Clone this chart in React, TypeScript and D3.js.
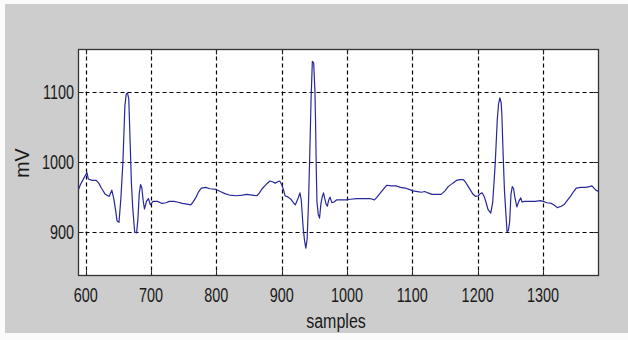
import * as d3 from "d3";

// sample index (x) and ECG amplitude in mV (y)
const samples = [
  589, 592, 596, 600, 602, 604, 610, 616, 620, 624, 630, 636, 640, 643, 646, 648, 651, 654, 657, 660,
  662, 664, 666, 668, 670, 672, 675, 678, 680, 682, 684, 686, 688, 690, 693, 696, 699, 703, 710, 717,
  723, 728, 735, 740, 748, 755, 761, 765, 769, 773, 777, 784, 790, 800, 806, 813, 820, 831, 840, 846,
  855, 862, 866, 870, 876, 882, 886, 890, 894, 897, 900, 903, 905, 910, 914, 918, 921, 925, 928, 930,
  933, 935, 937, 939, 941, 943, 945, 947, 949, 951, 952, 953, 954, 956, 958, 960, 962, 964, 966, 968,
  970, 972, 974, 977, 980, 984, 990, 999, 1005, 1015, 1025, 1035, 1042, 1046, 1052, 1058, 1061, 1068, 1075, 1082,
  1089, 1095, 1101, 1108, 1114, 1119, 1124, 1130, 1138, 1144, 1150, 1155, 1162, 1168, 1173, 1178, 1181, 1185, 1189, 1193,
  1197, 1201, 1204, 1207, 1210, 1213, 1216, 1220, 1223, 1225, 1227, 1230, 1232, 1234, 1236, 1237, 1239, 1241, 1243, 1245,
  1247, 1249, 1251, 1253, 1255, 1257, 1260, 1263, 1266, 1268, 1272, 1280, 1288, 1296, 1300, 1306, 1313, 1318, 1322, 1328,
  1333, 1337, 1342, 1347, 1351, 1358, 1365, 1371, 1375, 1378, 1381, 1385,
];
const millivolts = [
  961, 968, 975, 982, 985, 976, 974, 974, 970, 963, 954, 951, 960, 948, 930, 916, 914, 950, 1000, 1080,
  1097, 1099, 1090, 1030, 970, 935, 900, 899, 920, 955, 968, 963, 945, 933, 944, 948, 939, 944, 944, 941,
  942, 944, 944, 943, 941, 940, 939, 944, 950, 958, 963, 964, 962, 961, 958, 955, 953, 952, 953, 954,
  953, 952, 956, 962, 968, 973, 972, 970, 972, 973, 968, 960, 952, 950, 947, 942, 939, 948, 956, 946,
  905, 888, 877, 890, 940, 1010, 1090, 1144, 1142, 1100, 1050, 990, 944, 925, 920, 940, 950, 956, 948, 940,
  937, 946, 950, 942, 943, 946, 946, 946, 947, 948, 948, 948, 946, 950, 957, 964, 967, 966, 966, 964,
  963, 961, 959, 958, 957, 958, 956, 954, 954, 954, 959, 965, 970, 974, 975, 975, 972, 966, 960, 954,
  951, 952, 955, 956, 951, 942, 932, 927, 942, 970, 1000, 1060, 1083, 1092, 1085, 1070, 1012, 960, 930, 901,
  902, 915, 954, 965, 962, 950, 936, 944, 949, 943, 944, 944, 944, 945, 944, 942, 941, 938, 935, 937,
  940, 945, 951, 958, 963, 964, 964, 965, 966, 963, 960, 958,
];
const xTicks = [600, 700, 800, 900, 1000, 1100, 1200, 1300];
const yTicks = [900, 1000, 1100];

const W = 628;
const H = 340;
const left = 78.5;
const right = 598.5;
const top = 49.5;
const bottom = 275.5;

export default function App() {
  const x = d3.scaleLinear().domain([589, 1385]).range([left, right]);
  const y = d3.scaleLinear().domain([838, 1161]).range([bottom, top]);

  const points: [number, number][] = samples.map((s, i) => [s, millivolts[i]]);
  const line = d3
    .line<[number, number]>()
    .x((d) => x(d[0]))
    .y((d) => y(d[1]));

  const font = "'Liberation Sans', Arial, sans-serif";
  const tickLen = 5;

  return (
    <svg
      width={W}
      height={H}
      style={{ position: "absolute", left: 0, top: 0, display: "block" }}
    >
      <rect x={0} y={0} width={W} height={H} fill="#fbfbfb" />
      <rect x={5} y={4} width={W - 5} height={H - 11} fill="#cdcdcd" />
      <rect x={left} y={top} width={right - left} height={bottom - top} fill="#ffffff" />

      {/* grid */}
      <g stroke="#000" strokeWidth={1.2} strokeDasharray="4,3">
        {xTicks.map((t) => (
          <line key={t} x1={Math.round(x(t)) + 0.5} x2={Math.round(x(t)) + 0.5} y1={top} y2={bottom} />
        ))}
        {yTicks.map((t) => (
          <line key={t} x1={left} x2={right} y1={Math.round(y(t)) + 0.5} y2={Math.round(y(t)) + 0.5} />
        ))}
      </g>

      {/* ticks inside the box */}
      <g stroke="#222" strokeWidth={1}>
        {xTicks.map((t) => {
          const px = Math.round(x(t)) + 0.5;
          return (
            <g key={t}>
              <line x1={px} x2={px} y1={bottom} y2={bottom - tickLen} />
              <line x1={px} x2={px} y1={top} y2={top + tickLen} />
            </g>
          );
        })}
        {yTicks.map((t) => {
          const py = Math.round(y(t)) + 0.5;
          return (
            <g key={t}>
              <line x1={left} x2={left + tickLen} y1={py} y2={py} />
              <line x1={right} x2={right - tickLen} y1={py} y2={py} />
            </g>
          );
        })}
      </g>

      <path d={line(points) ?? ""} fill="none" stroke="#28289c" strokeWidth={1.2} strokeLinejoin="round" />

      <rect
        x={left}
        y={top}
        width={right - left}
        height={bottom - top}
        fill="none"
        stroke="#333"
        strokeWidth={1.3}
      />

      {/* tick labels */}
      <g fontFamily={font} fontSize={19.5} fill="#1a1a1a">
        {xTicks.map((t) => (
          <text
            key={t}
            textAnchor="middle"
            transform={`translate(${x(t)},302) scale(0.74,1)`}
          >
            {t}
          </text>
        ))}
        {yTicks.map((t) => (
          <text
            key={t}
            textAnchor="end"
            transform={`translate(74,${y(t) + 7}) scale(0.74,1)`}
          >
            {t}
          </text>
        ))}
        <text textAnchor="middle" transform="translate(336,328) scale(0.82,1)">
          samples
        </text>
        <text textAnchor="middle" transform="translate(29,163) rotate(-90)">
          mV
        </text>
      </g>
    </svg>
  );
}
